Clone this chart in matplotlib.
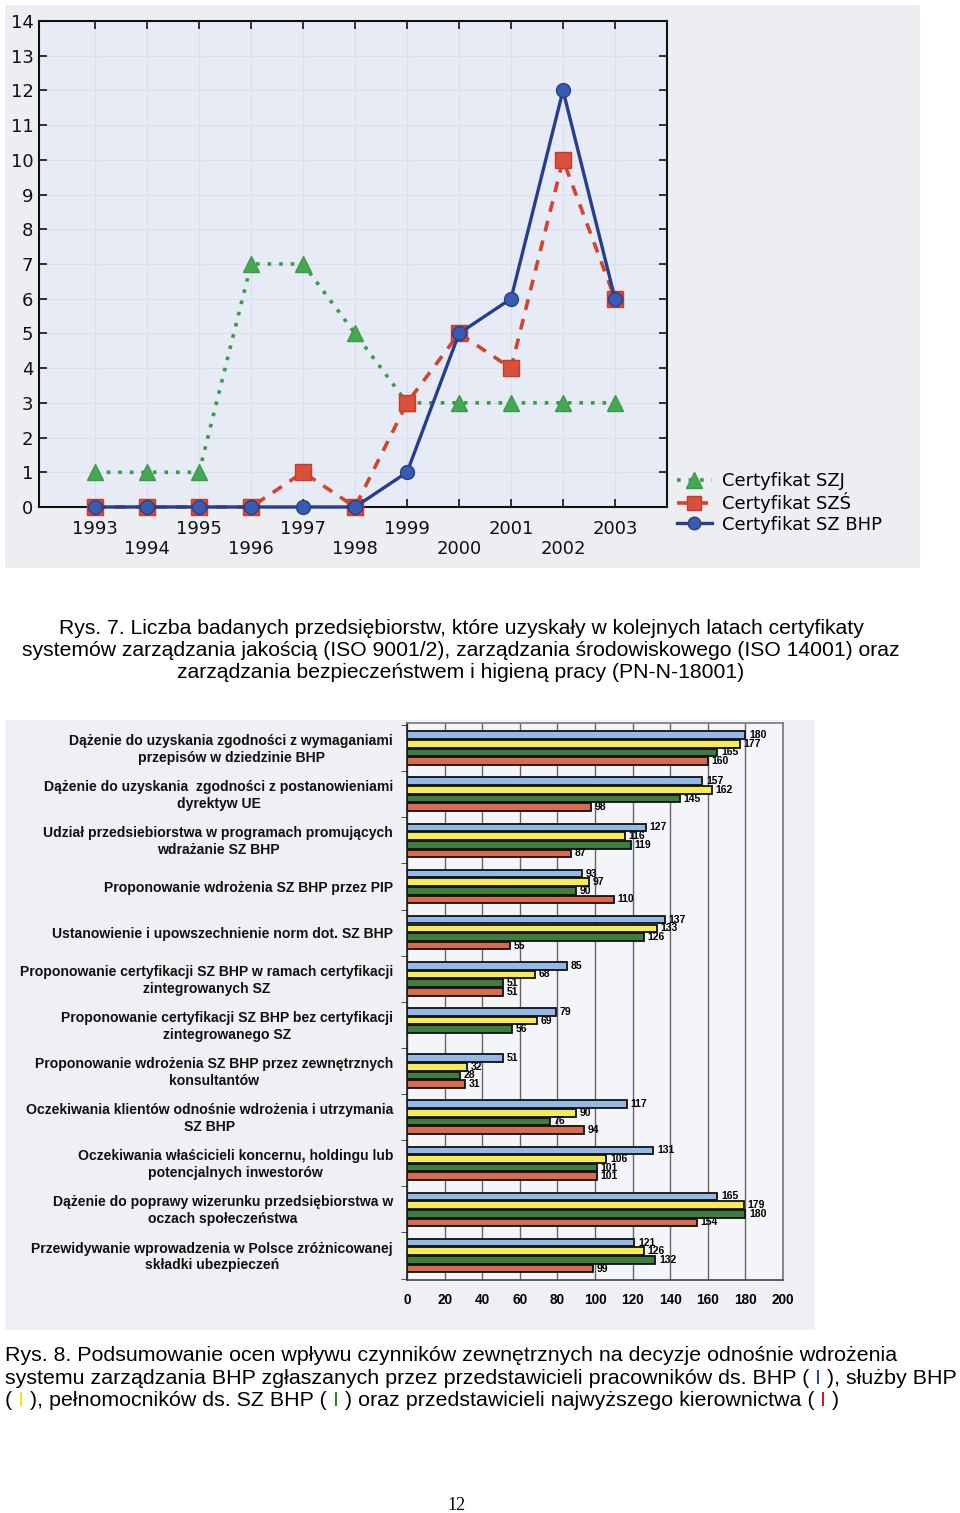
import numpy as np
import matplotlib
matplotlib.use('Agg')
import matplotlib.pyplot as plt
import matplotlib.transforms as mtrans
from matplotlib.patches import Rectangle
from matplotlib.lines import Line2D

# --- Rys. 7 data ---
years = list(range(1993, 2004))
szj = [1, 1, 1, 7, 7, 5, 3, 3, 3, 3, 3]
szs = [0, 0, 0, 0, 1, 0, 3, 5, 4, 10, 6]
bhp = [0, 0, 0, 0, 0, 0, 1, 5, 6, 12, 6]
legend_labels = ['Certyfikat SZJ', 'Certyfikat SZŚ', 'Certyfikat SZ BHP']

# --- Rys. 8 data ---
factors = [
    'Dążenie do uzyskania zgodności z wymaganiami\nprzepisów w dziedzinie BHP',
    'Dążenie do uzyskania  zgodności z postanowieniami\ndyrektyw UE',
    'Udział przedsiebiorstwa w programach promujących\nwdrażanie SZ BHP',
    'Proponowanie wdrożenia SZ BHP przez PIP',
    'Ustanowienie i upowszechnienie norm dot. SZ BHP',
    'Proponowanie certyfikacji SZ BHP w ramach certyfikacji\nzintegrowanych SZ',
    'Proponowanie certyfikacji SZ BHP bez certyfikacji\nzintegrowanego SZ',
    'Proponowanie wdrożenia SZ BHP przez zewnętrznych\nkonsultantów',
    'Oczekiwania klientów odnośnie wdrożenia i utrzymania\nSZ BHP',
    'Oczekiwania właścicieli koncernu, holdingu lub\npotencjalnych inwestorów',
    'Dążenie do poprawy wizerunku przedsiębiorstwa w\noczach społeczeństwa',
    'Przewidywanie wprowadzenia w Polsce zróżnicowanej\nskładki ubezpieczeń',
]
pracownicy = [180, 157, 127, 93, 137, 85, 79, 51, 117, 131, 165, 121]
sluzby = [177, 162, 116, 97, 133, 68, 69, 32, 90, 106, 179, 126]
pelnomocnicy = [165, 145, 119, 90, 126, 51, 56, 28, 76, 101, 180, 132]
kierownictwo = [160, 98, 87, 110, 55, 51, None, 31, 94, 101, 154, 99]
x_ticks = list(range(0, 201, 20))

W, H = 960, 1513
fig = plt.figure(figsize=(W / 100, H / 100), dpi=100)
fig.patch.set_facecolor('white')


def fx(x):
    return x / W


def fy(y):
    return 1 - y / H


# scanned picture backgrounds
fig.patches.append(Rectangle((fx(5), fy(568)), fx(915), 563 / H, transform=fig.transFigure,
                             facecolor='#eceef2', edgecolor='none', zorder=-10))
fig.patches.append(Rectangle((fx(5), fy(1330)), fx(810), 610 / H, transform=fig.transFigure,
                             facecolor='#eef0f3', edgecolor='none', zorder=-10))

# ---------------- line chart ----------------
ax1 = fig.add_axes([fx(39), fy(507), fx(628), 486 / H])
ax1.set_facecolor('#e6ebf6')
ax1.plot(years, szj, color='#3a9c48', ls=(0, (1, 2.2)), lw=2.6, marker='^', ms=12,
         mfc='#46a852', mec='#3a9c48', clip_on=False, zorder=3)
ax1.plot(years, szs, color='#d5432c', ls=(0, (3, 2.6)), lw=2.6, marker='s', ms=11,
         mfc='#d9513a', mec='#c43c27', clip_on=False, zorder=4)
ax1.plot(years, bhp, color='#263f8c', lw=2.4, marker='o', ms=10,
         mfc='#3a5cb0', mec='#263f8c', clip_on=False, zorder=5)
ax1.set_xlim(1991.92, 2004)
ax1.set_ylim(0, 14)
ax1.set_yticks(range(15))
ax1.set_xticks(years)
ax1.set_xticklabels([str(y) if y % 2 else '\n' + str(y) for y in years],
                    fontsize=13, linespacing=1.1)
ax1.tick_params(axis='y', labelsize=13, pad=4)
ax1.tick_params(direction='in', length=6, width=1.2, top=True, right=True, colors='#111')
ax1.tick_params(axis='x', pad=9.5)
ax1.grid(True, color='#d9dfea', lw=0.8)
ax1.set_axisbelow(True)
for s in ax1.spines.values():
    s.set_linewidth(1.5)
    s.set_color('#111')

handles = [
    Line2D([], [], color='#3a9c48', ls=(0, (1, 2.2)), lw=2.6, marker='^', ms=11, mfc='#46a852', mec='#3a9c48'),
    Line2D([], [], color='#d5432c', ls=(0, (3, 2.6)), lw=2.6, marker='s', ms=10, mfc='#d9513a', mec='#c43c27'),
    Line2D([], [], color='#263f8c', lw=2.4, marker='o', ms=9, mfc='#3a5cb0', mec='#263f8c'),
]
fig.legend(handles, legend_labels, loc='upper left', bbox_to_anchor=(fx(670), fy(465)),
           frameon=False, fontsize=13, handlelength=1.9, handletextpad=0.6,
           labelspacing=0.12, borderaxespad=0)

# ---------------- bar chart ----------------
ax2 = fig.add_axes([fx(407), fy(1280), fx(376), 557 / H])
ax2.set_facecolor('#f4f5f8')
ypos = np.arange(len(factors))
step = 0.1875
series = [(pracownicy, '#93b9e8'), (sluzby, '#f6ea55'), (pelnomocnicy, '#3e7d3e'), (kierownictwo, '#d96a50')]
for k, (vals, col) in enumerate(series):
    off = (k - 1.5) * step
    for i, v in enumerate(vals):
        if v is None:
            continue
        ax2.barh(ypos[i] + off, v, height=0.165, color=col, edgecolor='#111', linewidth=1.3, zorder=3)
        ax2.text(v + 2, ypos[i] + off, str(v), va='center', ha='left', fontsize=7.5,
                 fontweight='bold', family='Liberation Sans', zorder=4)
ax2.set_xlim(0, 200)
ax2.set_ylim(11.53, -0.545)
ax2.set_xticks(x_ticks)
ax2.set_xticklabels([str(t) for t in x_ticks], fontsize=9.8, fontweight='bold', family='Liberation Sans')
ax2.tick_params(axis='x', length=0, pad=9)
ax2.set_yticks([])
ax2.set_yticks(np.arange(-0.5, 12, 1), minor=True)
ax2.tick_params(axis='y', which='minor', length=4, direction='out', color='#333')
ax2.grid(True, axis='x', color='#666', lw=1.0, zorder=0)
ax2.set_axisbelow(True)
for name, s in ax2.spines.items():
    s.set_color('#777')
    s.set_linewidth(1.2)
ax2.spines['left'].set_color('#222')
ax2.spines['bottom'].set_color('#444')

lab_tr = mtrans.blended_transform_factory(ax2.transAxes, ax2.transData)
for i, f in enumerate(factors):
    ax2.text(-0.037, ypos[i] + 0.03, f, transform=lab_tr, ha='right', va='center',
             multialignment='center', fontsize=10.05, fontweight='bold',
             family='Liberation Sans', linespacing=1.25, color='#111')

# ---------------- captions ----------------
renderer = fig.canvas.get_renderer()
cap_font = dict(family='Liberation Sans')


def width_px(s, size):
    t = fig.text(0, 0, s, fontsize=size, **cap_font)
    w = t.get_window_extent(renderer).width
    t.remove()
    return w


rys7 = ['Rys. 7. Liczba badanych przedsiębiorstw, które uzyskały w kolejnych latach certyfikaty',
        'systemów zarządzania jakością (ISO 9001/2), zarządzania środowiskowego (ISO 14001) oraz',
        'zarządzania bezpieczeństwem i higieną pracy (PN-N-18001)']
size7 = 13 * 878 / width_px(rys7[1], 13)
for line, yc in zip(rys7, [628, 650, 672]):
    fig.text(fx(461), fy(yc + 6), line, ha='center', va='baseline', fontsize=size7,
             color='black', **cap_font)

# caption of Rys. 8 -- segments, colored "I" marks for the series
rys8 = [
    [('Rys. 8. Podsumowanie ocen wpływu czynników zewnętrznych na decyzje odnośnie wdrożenia', 'black')],
    [('systemu zarządzania BHP zgłaszanych przez przedstawicieli pracowników ds. BHP (', 'black'),
     (' I', '#1f3fd0'), (' ), służby BHP', 'black')],
    [('(', 'black'), (' I', '#f2e200'), (' ), pełnomocników ds. SZ BHP (', 'black'),
     (' I', '#1a8a1a'), (' ) oraz przedstawicieli najwyższego kierownictwa (', 'black'),
     (' I', '#e01010'), (' )', 'black')],
]
size8 = 13 * 950 / width_px(''.join(s for s, c in rys8[1]), 13)
for segs, yc in zip(rys8, [1355, 1378, 1400]):
    acc = ''
    for s, c in segs:
        acc += s
        w = width_px(acc, size8)
        fig.text(fx(5 + w), fy(yc + 6), s.strip(), ha='right', va='baseline',
                 fontsize=size8, color=c, **cap_font)

fig.text(fx(456), fy(1505), '12', ha='center', va='center', fontsize=13,
         family='Liberation Serif', color='black')

fig.savefig('out.png', dpi=100)
